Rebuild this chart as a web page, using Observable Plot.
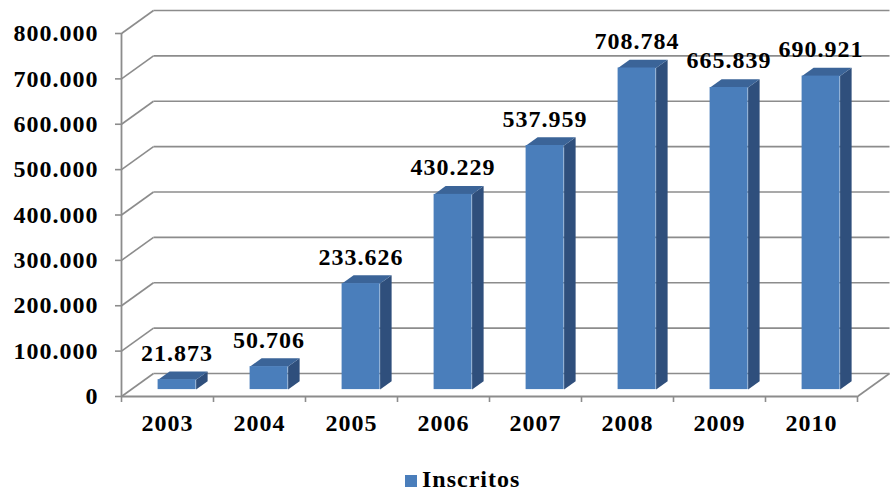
<!DOCTYPE html>
<html>
<head>
<meta charset="utf-8">
<script src="https://cdn.jsdelivr.net/npm/d3@7"></script>
<script src="https://cdn.jsdelivr.net/npm/@observablehq/plot@0.6"></script>
<style>
  html, body { margin: 0; padding: 0; background: #fff; }
  #wrap { position: relative; width: 892px; height: 493px; overflow: hidden; }
  #legend { position: absolute; left: 405px; top: 466px; display: flex; align-items: center;
    font-family: "Liberation Serif", "Times New Roman", serif; font-weight: bold; font-size: 24px;
    letter-spacing: 1px; color: #000; }
  #legend .sw { width: 12px; height: 12px; background: #4a7ebb; margin-right: 5px; margin-top: 2px; }
</style>
</head>
<body>
<div id="wrap"><div id="chart"></div><div id="legend"><span class="sw"></span><span id="legtext"></span></div></div>
<script>
// ---- data ----
const years = ["2003", "2004", "2005", "2006", "2007", "2008", "2009", "2010"];
const inscritos = [21873, 50706, 233626, 430229, 537959, 708784, 665839, 690921];
const yTicks = [0, 100000, 200000, 300000, 400000, 500000, 600000, 700000, 800000];
const seriesName = "Inscritos";

// ---- layout / style ----
const W = 892, H = 455;
const mL = 121, mR = 35, mT = 33, mB = 59;
const yMax = 800000;
const n = years.length;
const pxPerX = (W - mL - mR) / n;
const pxPerY = (H - mT - mB) / yMax;
const depthPx = { x: 32, y: 23 };
const DX = depthPx.x / pxPerX;      // depth offset in x data units
const DY = depthPx.y / pxPerY;      // depth offset in y data units
const d0 = 0.3, d1 = 0.66;          // bar front / back depth fraction
const barW = 38 / pxPerX;
const cFront = "#4a7ebb", cSide = "#2f4f7c", cTop = "#3b6498", grid = "#8c8c8c";
const fmt = v => d3.format(",")(v).replace(/,/g, ".");

const rows = years.map((y, i) => ({ year: y, i, v: inscritos[i] }));
const sidePts = [], topPts = [];
rows.forEach(r => {
  const xl = r.i + 0.5 - barW / 2 + DX * d0;
  const xr = xl + barW;
  const y0 = DY * d0, yt = r.v + DY * d0;
  const ddx = DX * (d1 - d0), ddy = DY * (d1 - d0);
  sidePts.push({ id: r.year, x: xr, y: y0 }, { id: r.year, x: xr + ddx, y: y0 + ddy },
               { id: r.year, x: xr + ddx, y: yt + ddy }, { id: r.year, x: xr, y: yt });
  topPts.push({ id: r.year, x: xl, y: yt }, { id: r.year, x: xl + ddx, y: yt + ddy },
              { id: r.year, x: xr + ddx, y: yt + ddy }, { id: r.year, x: xr, y: yt });
});

const font = { fontFamily: "'Liberation Serif', 'Times New Roman', serif", fontWeight: "bold", fontSize: 24 };

const chart = Plot.plot({
  width: W, height: H,
  marginLeft: mL, marginRight: mR, marginTop: mT, marginBottom: mB,
  style: { fontFamily: font.fontFamily, fontSize: "24px", fontWeight: "bold", letterSpacing: "1px", color: "#000", background: "#fff" },
  x: { type: "linear", domain: [0, n], axis: null, label: null },
  y: { domain: [0, yMax], axis: null, label: null },
  marks: [
    // back wall gridlines
    Plot.link(yTicks, { x1: DX, x2: n + DX, y1: v => v + DY, y2: v => v + DY, stroke: grid, strokeWidth: 1.6 }),
    // left wall diagonals
    Plot.link(yTicks, { x1: 0, x2: DX, y1: v => v, y2: v => v + DY, stroke: grid, strokeWidth: 1.6 }),
    // floor right edge
    Plot.link([0], { x1: n, x2: n + DX, y1: 0, y2: DY, stroke: grid, strokeWidth: 1.6 }),
    // front axes
    Plot.ruleX([0], { y1: 0, y2: yMax, stroke: grid, strokeWidth: 1.8 }),
    Plot.ruleY([0], { x1: 0, x2: n, stroke: grid, strokeWidth: 1.8 }),
    Plot.axisY({ ticks: yTicks, tickSize: 6, tickPadding: 17, tickFormat: fmt, label: null, stroke: grid, strokeWidth: 1.6, fill: "#000", ...font }),
    Plot.axisX({ ticks: d3.range(n + 1), tickSize: 6, tickFormat: () => "", label: null, stroke: grid, strokeWidth: 1.6 }),
    Plot.axisX({ ticks: d3.range(n).map(i => i + 0.5), tickSize: 0, tickPadding: 17, label: null, tickFormat: v => years[Math.floor(v)], fill: "#000", ...font }),
    // bars: side + top + front
    Plot.line(sidePts, { x: "x", y: "y", z: "id", fill: cSide, stroke: "none" }),
    Plot.line(topPts, { x: "x", y: "y", z: "id", fill: cTop, stroke: "none" }),
    Plot.rect(rows, { x1: r => r.i + 0.5 - barW / 2 + DX * d0, x2: r => r.i + 0.5 + barW / 2 + DX * d0,
                      y1: DY * d0, y2: r => r.v + DY * d0, fill: cFront }),
    // value labels
    Plot.text(rows, { x: r => r.i + 0.5 + DX * d0, y: r => r.v + DY * d0, dy: -19, lineAnchor: "bottom",
                      text: r => fmt(r.v), fill: "#000", ...font })
  ]
});
document.getElementById("chart").appendChild(chart);
document.getElementById("legtext").textContent = seriesName;
</script>
</body>
</html>
